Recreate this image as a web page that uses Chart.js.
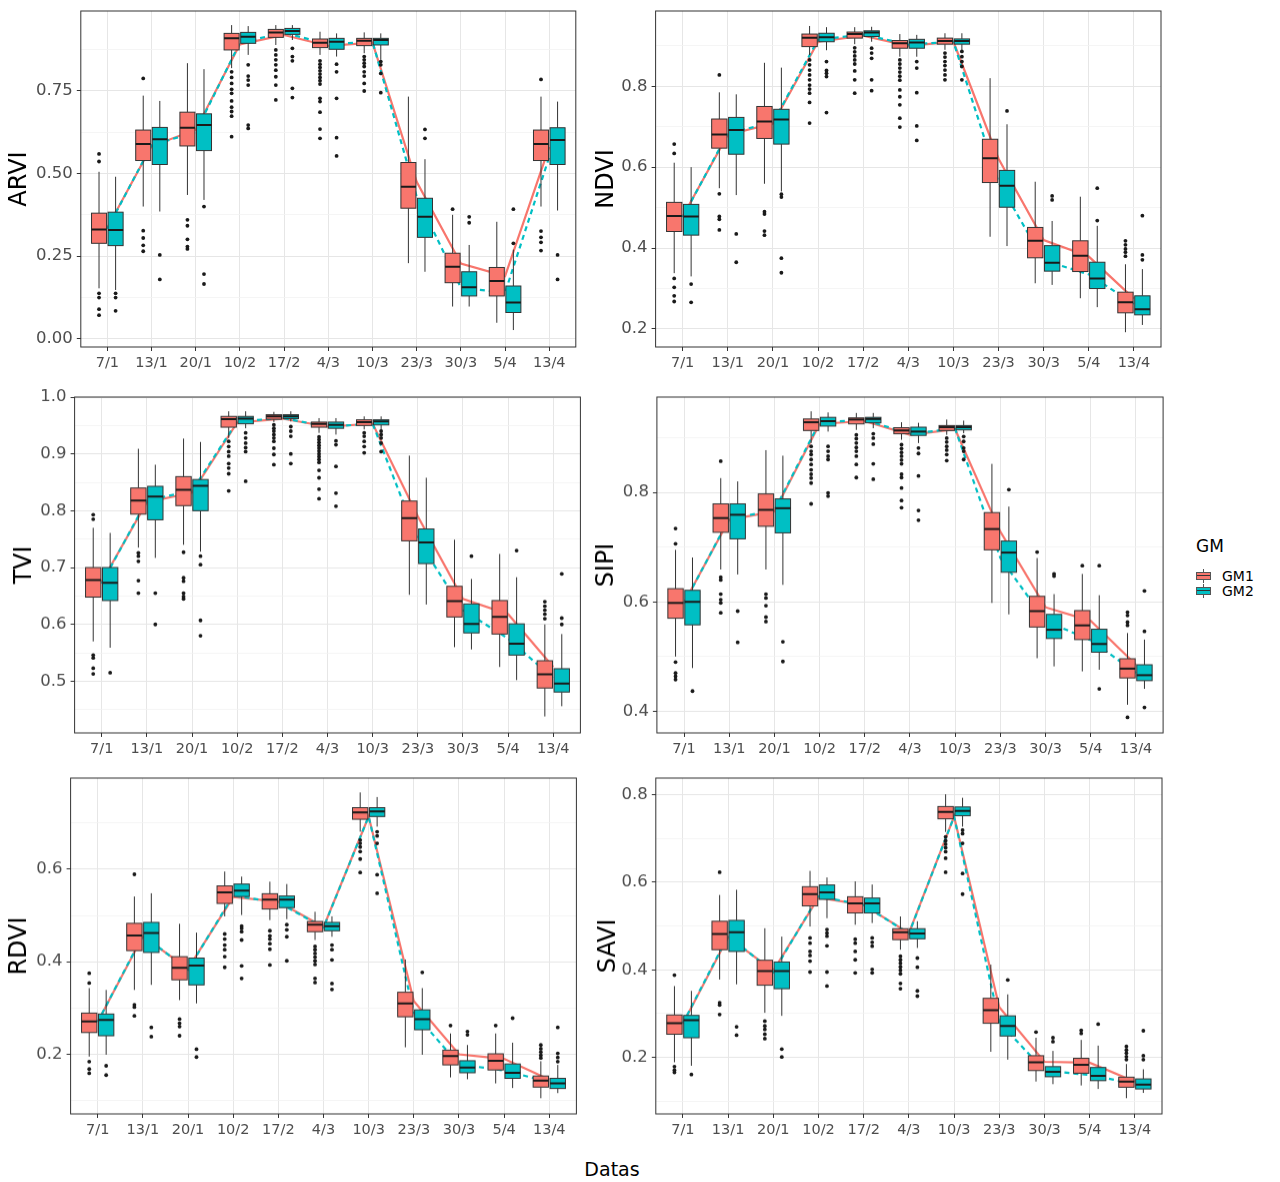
<!DOCTYPE html>
<html lang="pt">
<head>
<meta charset="UTF-8">
<title>Índices de vegetação por data</title>
<script src="https://cdn.jsdelivr.net/npm/chart.js"></script>
<style>
  body { margin: 0; background: #fff; width: 1280px; height: 1182px; position: relative; overflow: hidden; font-family: "DejaVu Sans", sans-serif; }
  canvas { position: absolute; }
  .xtitle { position: absolute; left: 0; width: 1224px; top: 1158px; text-align: center; font-size: 19px; color: #000; }
  .legend { position: absolute; left: 1196px; top: 536px; font-size: 14px; color: #000; }
  .legend .ttl { font-size: 17px; }
  .key { position: absolute; left: 0; width: 15px; height: 8px; border: 1px solid #555; box-sizing: border-box; }
  .key::before { content: ""; position: absolute; left: 0; right: 0; top: 2px; border-top: 1px solid #333; }
  .key::after { content: ""; position: absolute; left: 6px; top: -4px; height: 14px; border-left: 1px solid #555; z-index: -1; }
  .klab { position: absolute; left: 26px; line-height: 14px; }
</style>
</head>
<body>

<div class="xtitle">Datas</div>
<div class="legend">
  <div class="ttl">GM</div>
  <div class="key" style="top:36px; background:#F8766D"></div><div class="klab" style="top:33px">GM1</div>
  <div class="key" style="top:51px; background:#00BFC4"></div><div class="klab" style="top:48px">GM2</div>
</div>

<script>
// datas de coleta
const DATES = ["7/1", "13/1", "20/1", "10/2", "17/2", "4/3", "10/3", "23/3", "30/3", "5/4", "13/4"];

// cada caixa: [bigode inf, Q1, mediana, Q3, bigode sup]
// ---------- ARVI ----------
const ARVI_TICKS = [0, 0.25, 0.5, 0.75];
const ARVI_LABELS = ["0.00", "0.25", "0.50", "0.75"];
const ARVI_GM1 = [[0.153,0.289,0.331,0.38,0.505],[0.40,0.539,0.589,0.631,0.735],[0.435,0.583,0.638,0.685,0.833],[0.818,0.873,0.908,0.923,0.948],[0.888,0.911,0.926,0.935,0.948],[0.858,0.88,0.895,0.906,0.928],[0.863,0.886,0.901,0.908,0.926],[0.229,0.395,0.46,0.533,0.732],[0.098,0.17,0.218,0.259,0.375],[0.049,0.13,0.175,0.216,0.354],[0.40,0.539,0.589,0.631,0.732]];
const ARVI_GM1_OUT = [[0.559,0.536,0.138,0.125,0.09,0.072],[0.787,0.327,0.305,0.283,0.265],[0.36,0.342,0.301,0.279,0.272],[0.807,0.79,0.772,0.754,0.742,0.719,0.70,0.687,0.673,0.611],[0.873,0.858,0.843,0.828,0.812,0.792,0.767,0.722],[0.84,0.83,0.82,0.81,0.80,0.79,0.78,0.77,0.727,0.717,0.685,0.634,0.606],[0.853,0.843,0.833,0.823,0.807,0.794,0.772,0.749],[],[0.392],[],[0.784,0.326,0.307,0.292,0.267]];
const ARVI_GM1_MEAN = [0.336, 0.582, 0.632, 0.89, 0.918, 0.885, 0.895, 0.475, 0.228, 0.19, 0.58];
const ARVI_GM2 = [[0.148,0.282,0.329,0.383,0.49],[0.385,0.527,0.603,0.639,0.719],[0.42,0.569,0.646,0.68,0.815],[0.858,0.893,0.913,0.926,0.945],[0.903,0.92,0.93,0.938,0.948],[0.853,0.875,0.898,0.908,0.923],[0.843,0.888,0.903,0.908,0.923],[0.203,0.307,0.369,0.425,0.543],[0.098,0.13,0.156,0.203,0.284],[0.027,0.08,0.11,0.16,0.27],[0.388,0.527,0.601,0.638,0.717]];
const ARVI_GM2_OUT = [[0.138,0.125,0.085],[0.254,0.18],[0.4,0.196,0.166],[0.828,0.794,0.782,0.767,0.646,0.636],[0.878,0.853,0.84,0.757,0.729],[0.83,0.807,0.727,0.608,0.553],[0.838,0.828,0.802,0.744],[0.633,0.606],[0.369,0.351],[0.392,0.289],[0.254,0.18]];
const ARVI_GM2_MEAN = [0.333, 0.585, 0.625, 0.895, 0.925, 0.89, 0.898, 0.43, 0.155, 0.14, 0.55];

// ---------- NDVI ----------
const NDVI_TICKS = [0.2, 0.4, 0.6, 0.8];
const NDVI_LABELS = ["0.2", "0.4", "0.6", "0.8"];
const NDVI_GM1 = [[0.338,0.441,0.479,0.513,0.611],[0.548,0.647,0.681,0.719,0.785],[0.559,0.671,0.713,0.75,0.858],[0.877,0.898,0.92,0.929,0.949],[0.904,0.919,0.929,0.934,0.946],[0.873,0.894,0.906,0.913,0.929],[0.89,0.904,0.912,0.919,0.931],[0.428,0.562,0.622,0.669,0.82],[0.313,0.376,0.418,0.451,0.564],[0.276,0.342,0.381,0.418,0.527],[0.192,0.24,0.266,0.291,0.36]];
const NDVI_GM1_OUT = [[0.657,0.634,0.325,0.303,0.282,0.268],[0.828,0.534,0.478,0.471,0.445],[0.49,0.484,0.442,0.432],[0.865,0.853,0.84,0.828,0.816,0.803,0.793,0.783,0.76,0.709],[0.895,0.885,0.875,0.865,0.855,0.838,0.816,0.783],[0.865,0.855,0.845,0.835,0.825,0.815,0.791,0.774,0.754,0.721,0.699],[0.882,0.872,0.861,0.851,0.84,0.828,0.816],[],[],[],[0.418,0.408,0.398,0.39,0.38]];
const NDVI_GM1_MEAN = [0.478, 0.68, 0.708, 0.91, 0.925, 0.9, 0.91, 0.621, 0.42, 0.379, 0.275];
const NDVI_GM2 = [[0.33,0.432,0.478,0.508,0.6],[0.531,0.632,0.692,0.723,0.78],[0.54,0.657,0.718,0.743,0.846],[0.889,0.91,0.921,0.931,0.946],[0.91,0.923,0.933,0.937,0.947],[0.873,0.894,0.908,0.916,0.927],[0.89,0.904,0.912,0.917,0.931],[0.405,0.501,0.554,0.592,0.706],[0.309,0.343,0.364,0.406,0.467],[0.254,0.3,0.325,0.365,0.455],[0.21,0.235,0.249,0.282,0.348]];
const NDVI_GM2_OUT = [[0.311,0.266],[0.435,0.365],[0.533,0.526,0.375,0.339],[0.861,0.839,0.832,0.824,0.735],[0.894,0.882,0.869,0.816,0.789],[0.861,0.845,0.784,0.702,0.666],[0.886,0.873,0.861,0.849,0.816],[0.739],[0.529,0.519],[0.548,0.468],[0.48,0.383,0.371]];
const NDVI_GM2_MEAN = [0.476, 0.684, 0.71, 0.915, 0.928, 0.903, 0.91, 0.563, 0.37, 0.335, 0.262];

// ---------- TVI ----------
const TVI_TICKS = [0.5, 0.6, 0.7, 0.8, 0.9, 1.0];
const TVI_LABELS = ["0.5", "0.6", "0.7", "0.8", "0.9", "1.0"];
const TVI_GM1 = [[0.57,0.648,0.678,0.7,0.77],[0.735,0.794,0.818,0.84,0.909],[0.74,0.809,0.837,0.86,0.927],[0.928,0.947,0.961,0.966,0.975],[0.956,0.961,0.966,0.969,0.974],[0.937,0.947,0.953,0.956,0.963],[0.943,0.95,0.956,0.96,0.966],[0.652,0.747,0.787,0.817,0.897],[0.56,0.613,0.641,0.667,0.749],[0.525,0.583,0.613,0.642,0.724],[0.438,0.488,0.512,0.536,0.6]];
const TVI_GM1_OUT = [[0.793,0.785,0.546,0.541,0.523,0.513],[0.726,0.72,0.711,0.677,0.655],[0.727,0.682,0.676,0.655,0.649,0.645],[0.922,0.913,0.904,0.896,0.883,0.875,0.865,0.835],[0.951,0.945,0.94,0.934,0.928,0.922,0.91,0.899,0.881],[0.93,0.925,0.92,0.915,0.91,0.905,0.9,0.895,0.89,0.885,0.871,0.858,0.838,0.821],[0.937,0.931,0.922,0.913,0.902],[],[],[],[0.64,0.632,0.625,0.618,0.61]];
const TVI_GM1_MEAN = [0.675, 0.815, 0.832, 0.955, 0.962, 0.948, 0.953, 0.79, 0.645, 0.618, 0.525];
const TVI_GM2 = [[0.559,0.642,0.673,0.7,0.761],[0.717,0.784,0.825,0.843,0.881],[0.728,0.8,0.844,0.855,0.921],[0.945,0.953,0.962,0.966,0.975],[0.957,0.962,0.966,0.969,0.975],[0.934,0.945,0.951,0.956,0.963],[0.943,0.951,0.957,0.96,0.966],[0.635,0.707,0.744,0.768,0.858],[0.556,0.585,0.601,0.636,0.68],[0.502,0.546,0.566,0.601,0.683],[0.456,0.481,0.496,0.522,0.583]];
const TVI_GM2_OUT = [[0.515],[0.655,0.6],[0.72,0.705,0.607,0.58],[0.937,0.928,0.919,0.911,0.904,0.852],[0.948,0.94,0.931,0.9,0.883],[0.923,0.916,0.878,0.831,0.808],[0.94,0.934,0.928,0.919,0.904],[],[0.72],[0.73],[0.689,0.611,0.6]];
const TVI_GM2_MEAN = [0.672, 0.818, 0.835, 0.957, 0.963, 0.948, 0.953, 0.749, 0.625, 0.575, 0.505];

// ---------- SIPI ----------
const SIPI_TICKS = [0.4, 0.6, 0.8];
const SIPI_LABELS = ["0.4", "0.6", "0.8"];
const SIPI_GM1 = [[0.5,0.57,0.598,0.624,0.695],[0.659,0.727,0.753,0.779,0.826],[0.659,0.738,0.768,0.797,0.877],[0.89,0.913,0.928,0.934,0.948],[0.914,0.925,0.933,0.936,0.945],[0.896,0.907,0.913,0.918,0.928],[0.905,0.913,0.919,0.922,0.933],[0.598,0.695,0.733,0.763,0.852],[0.497,0.554,0.583,0.61,0.68],[0.473,0.531,0.557,0.584,0.651],[0.412,0.461,0.478,0.496,0.543]];
const SIPI_GM1_OUT = [[0.734,0.706,0.49,0.47,0.464,0.458],[0.857,0.645,0.64,0.614,0.604,0.598,0.58],[0.614,0.607,0.593,0.572,0.564],[0.884,0.875,0.869,0.86,0.851,0.841,0.833,0.826,0.817,0.779],[0.905,0.898,0.89,0.882,0.875,0.866,0.851,0.827],[0.887,0.88,0.873,0.866,0.859,0.852,0.833,0.827,0.808,0.785,0.772],[0.899,0.892,0.884,0.877,0.869,0.858],[],[0.691],[0.666],[0.581,0.575,0.563,0.557,0.389]];
const SIPI_GM1_MEAN = [0.598, 0.75, 0.765, 0.925, 0.93, 0.905, 0.915, 0.728, 0.59, 0.565, 0.485];
const SIPI_GM2 = [[0.479,0.558,0.6,0.621,0.681],[0.65,0.715,0.759,0.779,0.82],[0.631,0.726,0.771,0.788,0.867],[0.911,0.921,0.93,0.937,0.946],[0.917,0.927,0.934,0.937,0.945],[0.89,0.904,0.911,0.919,0.927],[0.908,0.914,0.919,0.922,0.931],[0.577,0.654,0.69,0.711,0.774],[0.482,0.533,0.549,0.577,0.614],[0.476,0.508,0.523,0.55,0.612],[0.441,0.456,0.466,0.485,0.531]];
const SIPI_GM2_OUT = [[0.437],[0.583,0.526],[0.527,0.491],[0.884,0.875,0.866,0.86,0.799,0.793],[0.907,0.899,0.888,0.852,0.824],[0.881,0.871,0.83,0.767,0.749],[0.902,0.893,0.881,0.875,0.86],[0.805],[0.651,0.647],[0.666,0.441],[0.62,0.546,0.407]];
const SIPI_GM2_MEAN = [0.597, 0.752, 0.767, 0.928, 0.932, 0.907, 0.916, 0.68, 0.565, 0.53, 0.47];

// ---------- RDVI ----------
const RDVI_TICKS = [0.2, 0.4, 0.6];
const RDVI_LABELS = ["0.2", "0.4", "0.6"];
const RDVI_GM1 = [[0.195,0.247,0.271,0.289,0.343],[0.339,0.424,0.457,0.483,0.541],[0.317,0.361,0.387,0.411,0.482],[0.498,0.526,0.55,0.564,0.595],[0.49,0.514,0.534,0.547,0.573],[0.447,0.465,0.48,0.487,0.508],[0.681,0.708,0.723,0.733,0.766],[0.215,0.281,0.31,0.334,0.405],[0.15,0.177,0.196,0.209,0.245],[0.137,0.166,0.186,0.201,0.245],[0.105,0.129,0.143,0.153,0.185]];
const RDVI_GM1_OUT = [[0.375,0.354,0.184,0.168,0.159],[0.589,0.307,0.302,0.283],[0.276,0.267,0.26,0.24],[0.46,0.449,0.436,0.426,0.411,0.388],[0.467,0.456,0.449,0.439,0.427,0.393],[0.433,0.426,0.418,0.41,0.402,0.394,0.364,0.355],[0.663,0.656,0.648,0.638,0.622,0.593],[],[0.262],[0.262],[0.22,0.212,0.205,0.198,0.192]];
const RDVI_GM1_MEAN = [0.27, 0.455, 0.385, 0.54, 0.53, 0.475, 0.714, 0.315, 0.2, 0.19, 0.145];
const RDVI_GM2 = [[0.199,0.24,0.274,0.287,0.339],[0.35,0.42,0.462,0.485,0.548],[0.31,0.35,0.392,0.408,0.463],[0.501,0.541,0.554,0.568,0.584],[0.492,0.517,0.534,0.542,0.568],[0.454,0.467,0.477,0.485,0.498],[0.692,0.714,0.725,0.733,0.756],[0.199,0.253,0.276,0.296,0.343],[0.146,0.16,0.171,0.186,0.22],[0.127,0.148,0.16,0.179,0.225],[0.116,0.126,0.137,0.148,0.177]];
const RDVI_GM2_OUT = [[0.175,0.155],[0.258,0.238],[0.211,0.194],[0.477,0.472,0.465,0.447,0.391,0.364],[0.48,0.469,0.454,0.402],[0.436,0.426,0.404,0.353,0.34],[0.681,0.672,0.656,0.588,0.548],[0.377],[0.249,0.242],[0.278],[0.258,0.202,0.193,0.184]];
const RDVI_GM2_MEAN = [0.27, 0.457, 0.383, 0.543, 0.528, 0.474, 0.714, 0.29, 0.178, 0.165, 0.14];

// ---------- SAVI ----------
const SAVI_TICKS = [0.2, 0.4, 0.6, 0.8];
const SAVI_LABELS = ["0.2", "0.4", "0.6", "0.8"];
const SAVI_GM1 = [[0.189,0.253,0.278,0.297,0.363],[0.378,0.446,0.482,0.511,0.571],[0.302,0.365,0.397,0.422,0.495],[0.499,0.546,0.573,0.59,0.626],[0.503,0.53,0.552,0.567,0.602],[0.446,0.469,0.486,0.494,0.522],[0.715,0.745,0.761,0.773,0.801],[0.213,0.278,0.308,0.335,0.412],[0.145,0.17,0.189,0.204,0.245],[0.136,0.164,0.183,0.198,0.24],[0.107,0.132,0.145,0.155,0.185]];
const SAVI_GM1_OUT = [[0.388,0.179,0.171,0.166],[0.623,0.325,0.32,0.298],[0.283,0.272,0.264,0.253,0.243],[0.473,0.461,0.442,0.433,0.42,0.395],[0.47,0.461,0.442,0.423,0.393],[0.431,0.423,0.415,0.407,0.399,0.391,0.369,0.357],[0.704,0.695,0.687,0.679,0.67,0.655,0.623],[],[0.258],[0.262,0.255],[0.225,0.217,0.21,0.202,0.195]];
const SAVI_GM1_MEAN = [0.277, 0.475, 0.398, 0.565, 0.548, 0.484, 0.75, 0.315, 0.19, 0.188, 0.145];
const SAVI_GM2 = [[0.181,0.245,0.285,0.296,0.352],[0.367,0.442,0.486,0.513,0.583],[0.295,0.357,0.397,0.418,0.476],[0.518,0.561,0.577,0.594,0.611],[0.507,0.53,0.552,0.564,0.595],[0.45,0.471,0.483,0.494,0.511],[0.727,0.752,0.763,0.772,0.793],[0.195,0.249,0.272,0.295,0.344],[0.139,0.156,0.167,0.179,0.215],[0.128,0.147,0.158,0.177,0.227],[0.119,0.128,0.138,0.151,0.173]];
const SAVI_GM2_OUT = [[0.161],[0.27,0.251],[0.219,0.201],[0.492,0.484,0.477,0.455,0.395,0.363],[0.473,0.463,0.454,0.401,0.393],[0.427,0.406,0.352,0.34],[0.719,0.711,0.689,0.62,0.573],[0.377],[0.245,0.236],[0.276],[0.261,0.204,0.195]];
const SAVI_GM2_MEAN = [0.278, 0.478, 0.395, 0.568, 0.548, 0.483, 0.75, 0.28, 0.17, 0.16, 0.14];

const RED = '#F8766D', TEAL = '#00BFC4';
const DODGE = [-0.1875, 0.1875];   // deslocamento de cada grupo dentro da data
const BOX_W = 0.34;

Chart.defaults.font.family = '"DejaVu Sans", sans-serif';
Chart.defaults.animation = false;

// posição de cada painel na página: área do gráfico (pl, pr, pt, pb) e limites do eixo y
const panels = [
  { name: 'ARVI', cl: 0,   pl: 80.8,  pr: 575.8,  pt: 11,    pb: 347,  ymin: -0.0242, ymax: 0.9906, tx: 20,
    ticks: ARVI_TICKS, labels: ARVI_LABELS, stats: [ARVI_GM1, ARVI_GM2], outs: [ARVI_GM1_OUT, ARVI_GM2_OUT], means: [ARVI_GM1_MEAN, ARVI_GM2_MEAN] },
  { name: 'NDVI', cl: 590, pl: 655.6, pr: 1161,   pt: 11,    pb: 347,  ymin: 0.1555, ymax: 0.986, tx: 607,
    ticks: NDVI_TICKS, labels: NDVI_LABELS, stats: [NDVI_GM1, NDVI_GM2], outs: [NDVI_GM1_OUT, NDVI_GM2_OUT], means: [NDVI_GM1_MEAN, NDVI_GM2_MEAN] },
  { name: 'TVI',  cl: 0,   pl: 74.6,  pr: 580.4,  pt: 397.3, pb: 733.3, ymin: 0.409, ymax: 1.0, tx: 25,
    ticks: TVI_TICKS, labels: TVI_LABELS, stats: [TVI_GM1, TVI_GM2], outs: [TVI_GM1_OUT, TVI_GM2_OUT], means: [TVI_GM1_MEAN, TVI_GM2_MEAN] },
  { name: 'SIPI', cl: 590, pl: 656.9, pr: 1163.1, pt: 397.3, pb: 733.3, ymin: 0.3605, ymax: 0.974, tx: 607,
    ticks: SIPI_TICKS, labels: SIPI_LABELS, stats: [SIPI_GM1, SIPI_GM2], outs: [SIPI_GM1_OUT, SIPI_GM2_OUT], means: [SIPI_GM1_MEAN, SIPI_GM2_MEAN] },
  { name: 'RDVI', cl: 0,   pl: 70.6,  pr: 576.4,  pt: 778.3, pb: 1114, ymin: 0.071, ymax: 0.797, tx: 20,
    ticks: RDVI_TICKS, labels: RDVI_LABELS, stats: [RDVI_GM1, RDVI_GM2], outs: [RDVI_GM1_OUT, RDVI_GM2_OUT], means: [RDVI_GM1_MEAN, RDVI_GM2_MEAN] },
  { name: 'SAVI', cl: 590, pl: 655.8, pr: 1162,   pt: 778.3, pb: 1114, ymin: 0.071, ymax: 0.838, tx: 609,
    ticks: SAVI_TICKS, labels: SAVI_LABELS, stats: [SAVI_GM1, SAVI_GM2], outs: [SAVI_GM1_OUT, SAVI_GM2_OUT], means: [SAVI_GM1_MEAN, SAVI_GM2_MEAN] }
];

// linhas de grade secundárias: metade do passo entre marcas principais
function withMinor(major, lo, hi) {
  const step = major[1] - major[0];
  const out = [];
  for (let v = major[0] - step * 2; v <= hi + 1e-9; v += step / 2) {
    const r = Math.round(v * 1000) / 1000;
    if (r >= lo && r <= hi) out.push(r);
  }
  return out;
}

function boxPlugin(p) {
  return {
    id: 'box_' + p.name,
    afterDatasetsDraw(chart) {
      const ctx = chart.ctx, xs = chart.scales.x, ys = chart.scales.y, a = chart.chartArea;
      const half = xs.getPixelForValue(BOX_W / 2) - xs.getPixelForValue(0);
      ctx.save();
      ctx.beginPath(); ctx.rect(a.left, a.top, a.right - a.left, a.bottom - a.top); ctx.clip();
      [0, 1].forEach(g => {
        p.stats[g].forEach((s, i) => {
          const xc = xs.getPixelForValue(i + DODGE[g]);
          const [lo, q1, md, q3, hi] = s.map(v => ys.getPixelForValue(v));
          ctx.strokeStyle = '#333'; ctx.lineWidth = 1;
          ctx.beginPath();
          ctx.moveTo(xc, hi); ctx.lineTo(xc, q3);
          ctx.moveTo(xc, q1); ctx.lineTo(xc, lo);
          ctx.stroke();
          ctx.fillStyle = g === 0 ? RED : TEAL;
          ctx.fillRect(xc - half, q3, half * 2, q1 - q3);
          ctx.strokeRect(xc - half, q3, half * 2, q1 - q3);
          ctx.lineWidth = 2; ctx.strokeStyle = '#1a1a1a';
          ctx.beginPath(); ctx.moveTo(xc - half, md); ctx.lineTo(xc + half, md); ctx.stroke();
          ctx.fillStyle = '#1a1a1a';
          p.outs[g][i].forEach(v => {
            ctx.beginPath(); ctx.arc(xc, ys.getPixelForValue(v), 1.9, 0, Math.PI * 2); ctx.fill();
          });
        });
      });
      ctx.restore();
    },
    afterDraw(chart) {
      const ctx = chart.ctx, a = chart.chartArea;
      ctx.save();
      ctx.strokeStyle = '#333'; ctx.lineWidth = 1;
      ctx.strokeRect(a.left, a.top, a.right - a.left, a.bottom - a.top);
      ctx.restore();
    }
  };
}

panels.forEach(p => {
  const ct = p.pt - 14;
  const cw = Math.round(p.pr) + 4 - p.cl;
  const ch = Math.round(p.pb) + 30 - ct;
  const cv = document.createElement('canvas');
  cv.width = cw; cv.height = ch;
  cv.style.left = p.cl + 'px'; cv.style.top = ct + 'px';
  cv.style.width = cw + 'px'; cv.style.height = ch + 'px';
  document.body.appendChild(cv);

  const yAll = withMinor(p.ticks, p.ymin, p.ymax);
  const isMajor = v => p.ticks.some(t => Math.abs(t - v) < 1e-6);
  const xTicks = DATES.map((d, i) => i);

  new Chart(cv, {
    type: 'line',
    data: {
      datasets: [
        { label: 'GM2', data: p.means[1].map((v, i) => ({ x: i, y: v })), borderColor: TEAL, borderWidth: 2.2, borderDash: [5, 4], pointRadius: 0, fill: false, tension: 0 },
        { label: 'GM1', data: p.means[0].map((v, i) => ({ x: i, y: v })), borderColor: RED, borderWidth: 2.2, pointRadius: 0, fill: false, tension: 0 }
      ]
    },
    options: {
      responsive: false,
      devicePixelRatio: 1,
      layout: { padding: { top: 14, right: p.cl + cw - p.pr, left: 0, bottom: 0 } },
      plugins: { legend: { display: false }, tooltip: { enabled: false } },
      scales: {
        x: {
          type: 'linear', min: -0.6, max: 10.6,
          afterBuildTicks: s => { s.ticks = xTicks.map(v => ({ value: v })); },
          afterFit: s => { s.height = 30; },
          ticks: { autoSkip: false, maxRotation: 0, padding: 4, color: '#4D4D4D', font: { size: 14.5 },
                   callback: v => DATES[Math.round(v)] },
          grid: { color: '#E6E6E6', lineWidth: 1, tickColor: '#333', tickLength: 4 },
          border: { display: false }
        },
        y: {
          type: 'linear', min: p.ymin, max: p.ymax,
          afterBuildTicks: s => { s.ticks = yAll.map(v => ({ value: v })); },
          afterFit: s => { s.width = p.pl - p.cl; },
          ticks: { autoSkip: false, padding: 4, color: '#4D4D4D', font: { size: 16.5 },
                   callback: v => { const k = p.ticks.findIndex(t => Math.abs(t - v) < 1e-6); return k >= 0 ? p.labels[k] : ''; } },
          grid: {
            color: c => isMajor(c.tick.value) ? '#E6E6E6' : '#F3F3F3',
            lineWidth: c => isMajor(c.tick.value) ? 1 : 0.8,
            tickColor: c => isMajor(c.tick.value) ? '#333' : 'rgba(0,0,0,0)',
            tickLength: 4
          },
          border: { display: false },
          title: { display: true, text: p.name, color: '#000', font: { size: 24 },
                   padding: { top: p.tx - p.cl - 14.4, bottom: 0 } }
        }
      }
    },
    plugins: [boxPlugin(p)]
  });
});
</script>
</body>
</html>
